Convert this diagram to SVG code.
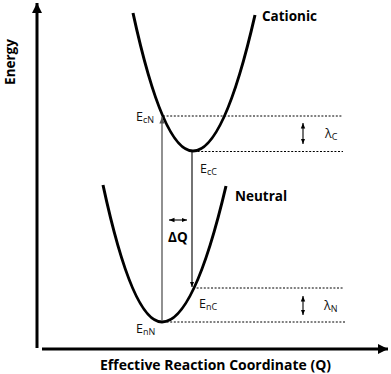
<svg xmlns="http://www.w3.org/2000/svg" width="391" height="374" viewBox="0 0 391 374">
<defs>
<marker id="axh" viewBox="0 0 10 10" refX="10" refY="5" markerWidth="3.4" markerHeight="3.4" orient="auto" markerUnits="strokeWidth"><path d="M0,0 L10,5 L0,10 z" fill="#000"/></marker>
<marker id="sh" viewBox="0 0 10 10" refX="10" refY="5" markerWidth="5" markerHeight="5" orient="auto-start-reverse" markerUnits="strokeWidth"><path d="M0,1 L10,5 L0,9 z" fill="#000"/></marker>
<marker id="shg" viewBox="0 0 10 10" refX="10" refY="5" markerWidth="5" markerHeight="5" orient="auto" markerUnits="strokeWidth"><path d="M0,1 L10,5 L0,9 z" fill="#555"/></marker>
</defs>
<style>
.ax{stroke:#000;stroke-width:3;fill:none}
.curve{stroke:#000;stroke-width:3;fill:none}
.dot{stroke:#000;stroke-width:1;stroke-dasharray:2 1.6;fill:none}
.thin{stroke:#000;stroke-width:1.1;fill:none}
.gray{stroke:#555;stroke-width:1.3;fill:none}
.b{font-family:"Open Sans","DejaVu Sans",sans-serif;font-weight:bold;font-size:13.5px;fill:#000}
.r{font-family:"Open Sans","DejaVu Sans",sans-serif;font-size:12.5px;fill:#111}
.s{font-size:9px}
</style>
<g id="axes">
<line class="ax" x1="37" y1="348" x2="37" y2="3" marker-end="url(#axh)"/>
<line class="ax" x1="42" y1="349" x2="388" y2="349" marker-end="url(#axh)"/>
<text class="b" transform="translate(15,62) rotate(-90)" text-anchor="middle">Energy</text>
<text class="b" x="100" y="370" textLength="231" lengthAdjust="spacingAndGlyphs">Effective Reaction Coordinate (Q)</text>
</g>
<g id="cationic">
<path class="curve" d="M133,13 Q163,151 193,151 Q224,151 255,15"/>
<text class="b" x="262" y="21">Cationic</text>
</g>
<g id="neutral">
<path class="curve" d="M103,185 Q132.5,322 162,322 Q194,322 226,186"/>
<text class="b" x="235" y="201">Neutral</text>
</g>
<g id="connectors">
<line class="dot" x1="163" y1="116" x2="343" y2="116"/>
<line class="dot" x1="194" y1="151.5" x2="343" y2="151.5"/>
<line class="dot" x1="193" y1="288" x2="344" y2="288"/>
<line class="dot" x1="163" y1="322" x2="345" y2="322"/>
<line class="gray" x1="162" y1="321" x2="162" y2="117" marker-end="url(#shg)"/>
<line class="thin" x1="192" y1="152" x2="192" y2="287" marker-end="url(#sh)"/>
<line class="thin" x1="169" y1="220" x2="187" y2="220" marker-start="url(#sh)" marker-end="url(#sh)"/>
<line class="thin" x1="303" y1="123" x2="303" y2="144" marker-start="url(#sh)" marker-end="url(#sh)"/>
<line class="thin" x1="303" y1="296" x2="303" y2="315" marker-start="url(#sh)" marker-end="url(#sh)"/>
</g>
<g id="labels">
<text class="b" x="168" y="242">ΔQ</text>
<text class="r" x="136" y="121">E<tspan class="s" dy="2">cN</tspan></text>
<text class="r" x="200" y="173">E<tspan class="s" dy="2">cC</tspan></text>
<text class="r" x="199" y="308">E<tspan class="s" dy="2">nC</tspan></text>
<text class="r" x="136" y="333">E<tspan class="s" dy="2">nN</tspan></text>
<text class="r" x="325" y="138">λ<tspan class="s" dy="2">C</tspan></text>
<text class="r" x="324" y="310">λ<tspan class="s" dy="2">N</tspan></text>
</g>
</svg>
